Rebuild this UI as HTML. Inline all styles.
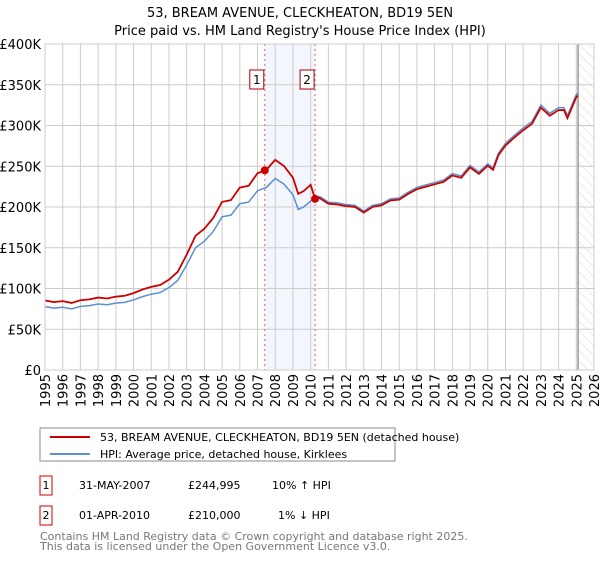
<!DOCTYPE html>
<html><head><meta charset="utf-8"><style>
body{margin:0;background:#fff;font-family:"Liberation Sans","DejaVu Sans",sans-serif;}
svg text{font-family:"DejaVu Sans","Liberation Sans",sans-serif;}
</style></head><body>
<svg id="c" width="600" height="560" xmlns="http://www.w3.org/2000/svg">
<defs><pattern id="hatch" width="7" height="7" patternUnits="userSpaceOnUse" patternTransform="rotate(-45)"><line x1="0" y1="0" x2="0" y2="7" stroke="#d8d8d8" stroke-width="1"/></pattern></defs>
<text x="300" y="17" text-anchor="middle" font-size="13">53, BREAM AVENUE, CLECKHEATON, BD19 5EN</text>
<text x="300" y="35" text-anchor="middle" font-size="13">Price paid vs. HM Land Registry's House Price Index (HPI)</text>
<g id="plot"></g>
<rect x="40" y="428" width="355" height="33" fill="#fff" stroke="#888"/>
<line x1="50" y1="437" x2="90" y2="437" stroke="#cc0000" stroke-width="2"/>
<text x="100" y="441" font-size="11">53, BREAM AVENUE, CLECKHEATON, BD19 5EN (detached house)</text>
<line x1="50" y1="454" x2="90" y2="454" stroke="#5b8fd0" stroke-width="2"/>
<text x="100" y="458" font-size="11">HPI: Average price, detached house, Kirklees</text>
<g font-size="11">
<rect x="40" y="476" width="12" height="19" fill="#fff" stroke="#cc0000"/>
<text x="46" y="489" text-anchor="middle">1</text>
<text x="79" y="489">31-MAY-2007</text><text x="188" y="489">£244,995</text><text x="272" y="489">10% ↑ HPI</text></g>
<g font-size="11">
<rect x="40" y="506" width="12" height="19" fill="#fff" stroke="#cc0000"/>
<text x="46" y="519" text-anchor="middle">2</text>
<text x="79" y="519">01-APR-2010</text><text x="188" y="519">£210,000</text><text x="278" y="519">1% ↓ HPI</text></g>
<text x="40" y="540" font-size="11" fill="#777">Contains HM Land Registry data © Crown copyright and database right 2025.</text>
<text x="40" y="550" font-size="11" fill="#777">This data is licensed under the Open Government Licence v3.0.</text>
</svg>
<script>
const hpiYears=[1995,1995.5,1996,1996.5,1997,1997.5,1998,1998.5,1999,1999.5,2000,2000.5,2001,2001.5,2002,2002.5,2003,2003.5,2004,2004.5,2005,2005.5,2006,2006.5,2007,2007.5,2008,2008.5,2009,2009.3,2009.6,2010,2010.25,2010.5,2011,2011.5,2012,2012.5,2013,2013.5,2014,2014.5,2015,2015.5,2016,2016.5,2017,2017.5,2018,2018.5,2019,2019.5,2020,2020.3,2020.5,2020.6,2021,2021.5,2022,2022.5,2023,2023.5,2024,2024.3,2024.5,2025,2025.1];
const hpiValues=[77.7,76,77,75,78,79,81,80,82,83,86,90,93,95,101,110,129,150,158,170,188,190,204,206,220,224,235,228,215,197,200,207,212,213,206,205,203,202,195,202,204,210,211,218,224,227,230,233,241,238,251,243,253,248,260,266,278,288,297,305,325,315,322,322,312,338,340];
const saleYears=[2007.41,2010.25];
const salePrices=[244.995,210];
const yTicks=[0,50,100,150,200,250,300,350,400];
const yLabels=["£0","£50K","£100K","£150K","£200K","£250K","£300K","£350K","£400K"];
const xTicks=[1995,1996,1997,1998,1999,2000,2001,2002,2003,2004,2005,2006,2007,2008,2009,2010,2011,2012,2013,2014,2015,2016,2017,2018,2019,2020,2021,2022,2023,2024,2025,2026];
const L=45,R=594,T=44,B=370;
const x=v=>L+(v-1995)/(2026-1995)*(R-L);
const y=v=>B-v/400*(B-T);
const NS="http://www.w3.org/2000/svg";
const g=document.getElementById('plot');
function mk(tag,attrs){const e=document.createElementNS(NS,tag);for(const k in attrs)e.setAttribute(k,attrs[k]);g.appendChild(e);return e;}
function hpiAt(t){for(let i=0;i<hpiYears.length-1;i++){if(t<=hpiYears[i+1]){const f=(t-hpiYears[i])/(hpiYears[i+1]-hpiYears[i]);return hpiValues[i]+f*(hpiValues[i+1]-hpiValues[i]);}}return hpiValues[hpiValues.length-1];}
let e=mk('rect',{x:x(saleYears[0]),y:T,width:x(saleYears[1])-x(saleYears[0]),height:B-T,fill:'#f3f6fd'});


e=mk('rect',{x:x(2025.1),y:T,width:R-x(2025.1),height:B-T,fill:'url(#hatch)'});


yTicks.forEach((v,i)=>{
 e=mk('line',{x1:L,x2:R,y1:y(v),y2:y(v),stroke:'#ccc'});
 
 
 e=mk('text',{x:L-4,y:y(v)+5,'text-anchor':'end','font-size':13});
 e.textContent=yLabels[i];
 
 
});
xTicks.forEach(v=>{
 e=mk('line',{x1:x(v),x2:x(v),y1:T,y2:B,stroke:'#ccc'});
 
 
 e=mk('text',{x:0,y:0,'text-anchor':'end','font-size':13,transform:`translate(${x(v)+5},${B+4}) rotate(-90)`});
 e.textContent=v;
 
 
});
e=mk('line',{x1:x(2025.1),x2:x(2025.1),y1:T,y2:B,stroke:'#999','stroke-width':1.5});


saleYears.forEach((s,i)=>{
 e=mk('line',{x1:x(s),x2:x(s),y1:T,y2:B,stroke:'#e06060','stroke-dasharray':'2,3'});
 
 
 e=mk('rect',{x:x(s)-15,y:70,width:14,height:19,fill:'#fff',stroke:'#aa0000'});
 
 
 e=mk('text',{x:x(s)-8,y:84,'text-anchor':'middle','font-size':12});
 e.textContent=String(i+1);
 
 
});
const hpiPts=hpiYears.map((t,i)=>x(t)+','+y(hpiValues[i])).join(' ');
e=mk('polyline',{points:hpiPts,fill:'none',stroke:'#5b8fd0','stroke-width':1.5});


const redPts=hpiYears.map((t,i)=>{const k=t<saleYears[1]?0:1;const r=salePrices[k]/hpiAt(saleYears[k]);return x(t)+','+y(hpiValues[i]*r);}).join(' ');
e=mk('polyline',{points:redPts,fill:'none',stroke:'#cc0000','stroke-width':1.8});


saleYears.forEach((s,i)=>{
 e=mk('circle',{cx:x(s),cy:y(salePrices[i]),r:4,fill:'#cc0000'});
 
 
});
e=mk('rect',{x:L,y:T,width:R-L,height:B-T,fill:'none',stroke:'#ccc'});


</script>
</body></html>
